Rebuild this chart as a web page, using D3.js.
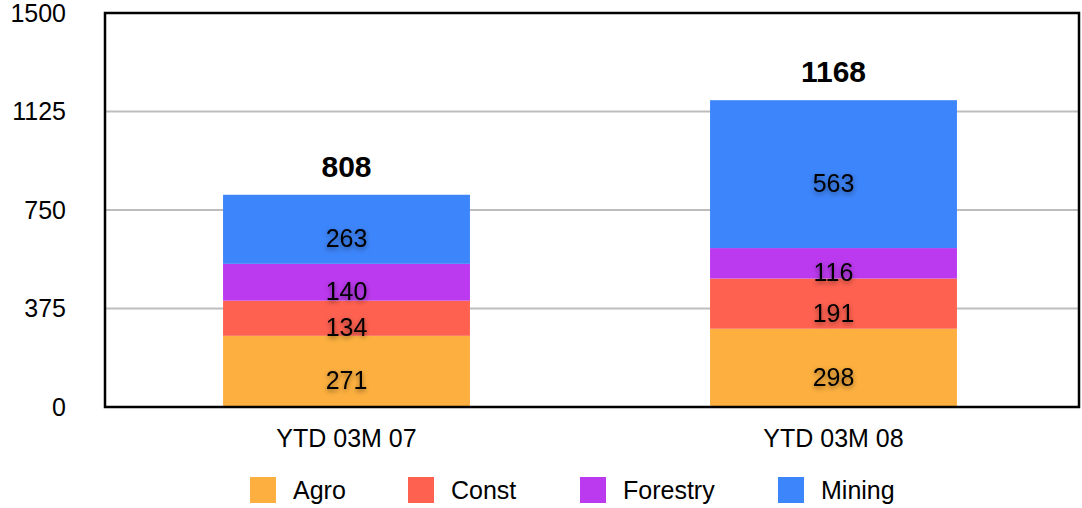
<!DOCTYPE html>
<html>
<head>
<meta charset="utf-8">
<script src="https://cdn.jsdelivr.net/npm/d3@7"></script>
<style>
  body { margin: 0; background: #fff; }
  svg text { font-family: "Liberation Sans", Arial, Helvetica, sans-serif; fill: #000; }
</style>
</head>
<body>
<svg width="1082" height="508"></svg>
<script>
// data
var periods = ["YTD 03M 07", "YTD 03M 08"]
var sectors = ["Agro", "Const", "Forestry", "Mining"]
var agro = [271, 298]
var constr = [134, 191]
var forestry = [140, 116]
var mining = [263, 563]
var totals = [808, 1168]
var yTicks = [0, 375, 750, 1125, 1500]
var colors = ["#fdb03f", "#ff6150", "#bb39ee", "#3d85fa"]

var margins = {top: 13, right: 3, bottom: 101, left: 105}
var width = 1082 - margins.left - margins.right
var height = 508 - margins.top - margins.bottom

var svg = d3.select("svg")

// shadow for the segment numbers
var defs = svg.append("defs")
defs.append("filter").attr("id", "shadow")
    .attr("x", "-30%").attr("y", "-50%").attr("width", "160%").attr("height", "200%")
    .append("feDropShadow")
    .attr("dx", 0).attr("dy", 2)
    .attr("stdDeviation", 2.5)
    .attr("flood-color", "#000")
    .attr("flood-opacity", 0.45)

var rows = periods.map(function(p, i) {
    return {period: p, Agro: agro[i], Const: constr[i], Forestry: forestry[i], Mining: mining[i], total: totals[i]}
})

var xScale = d3.scaleBand()
    .domain(periods)
    .range([0, width])
    .padding(0)
var yScale = d3.scaleLinear()
    .domain([0, 1500])
    .range([height, 0])
var cScale = d3.scaleOrdinal().domain(sectors).range(colors)

var barW = xScale.bandwidth() * 0.507
var mid = function(p) { return xScale(p) + xScale.bandwidth() / 2 - 2 }

var g = svg.append("g")
    .attr("transform", "translate(" + margins.left + "," + margins.top + ")")

// grid lines
g.append("g").selectAll("line")
    .data(yTicks.filter(function(d) { return d > 0 && d < 1500 }))
    .enter()
    .append("line")
    .attr("x1", 0).attr("x2", width)
    .attr("y1", function(d) { return yScale(d) })
    .attr("y2", function(d) { return yScale(d) })
    .attr("stroke", "#bdbdbd")
    .attr("stroke-width", 2)

// y axis labels
var yAxis = d3.axisLeft(yScale).tickValues(yTicks).tickFormat(d3.format("d")).tickSize(0).tickPadding(39)
g.append("g").attr("class", "yaxis").call(yAxis)
    .call(function(a) { a.select(".domain").remove() })
    .selectAll("text")
    .attr("font-size", "25px")
    .attr("font-family", "Liberation Sans, Arial, sans-serif")
    .attr("fill", "#000")

// stacked bars
var series = d3.stack().keys(sectors)(rows)
var layers = g.append("g").selectAll("g")
    .data(series)
    .enter()
    .append("g")
    .attr("fill", function(d) { return cScale(d.key) })

layers.selectAll("rect")
    .data(function(d) { return d })
    .enter()
    .append("rect")
    .attr("x", function(d) { return mid(d.data.period) - barW / 2 })
    .attr("width", barW)
    .attr("y", function(d) { return yScale(d[1]) })
    .attr("height", function(d) { return yScale(d[0]) - yScale(d[1]) })

// segment labels
layers.selectAll("text")
    .data(function(d) { return d.map(function(s) { s.key = d.key; return s }) })
    .enter()
    .append("text")
    .attr("x", function(d) { return mid(d.data.period) })
    .attr("y", function(d) { return (yScale(d[0]) + yScale(d[1])) / 2 + 9 })
    .attr("dominant-baseline", "central")
    .attr("text-anchor", "middle")
    .attr("font-size", "25px")
    .attr("filter", "url(#shadow)")
    .text(function(d) { return d.data[d.key] })

// totals
g.append("g").selectAll("text")
    .data(rows)
    .enter()
    .append("text")
    .attr("x", function(d) { return mid(d.period) })
    .attr("y", function(d) { return yScale(d.total) - 18 })
    .attr("text-anchor", "middle")
    .attr("font-size", "30px")
    .attr("font-weight", "bold")
    .text(function(d) { return d.total })

// frame
g.append("rect")
    .attr("x", 0).attr("y", 0)
    .attr("width", width).attr("height", height)
    .attr("fill", "none")
    .attr("stroke", "#000")
    .attr("stroke-width", 2.5)

// x labels
var xAxis = d3.axisBottom(xScale).tickSize(0).tickPadding(22)
g.append("g").attr("transform", "translate(-2," + height + ")").call(xAxis)
    .call(function(a) { a.select(".domain").remove() })
    .selectAll("text")
    .attr("font-size", "25px")
    .attr("font-family", "Liberation Sans, Arial, sans-serif")
    .attr("fill", "#000")

// legend
var legendX = [250, 408, 580, 778]
var legend = svg.append("g").selectAll("g")
    .data(sectors)
    .enter()
    .append("g")
    .attr("transform", function(d, i) { return "translate(" + legendX[i] + ",477)" })
legend.append("rect")
    .attr("width", 26).attr("height", 26)
    .attr("fill", function(d) { return cScale(d) })
legend.append("text")
    .attr("x", 43).attr("y", 22)
    .attr("font-size", "25px")
    .text(function(d) { return d })
</script>
</body>
</html>
